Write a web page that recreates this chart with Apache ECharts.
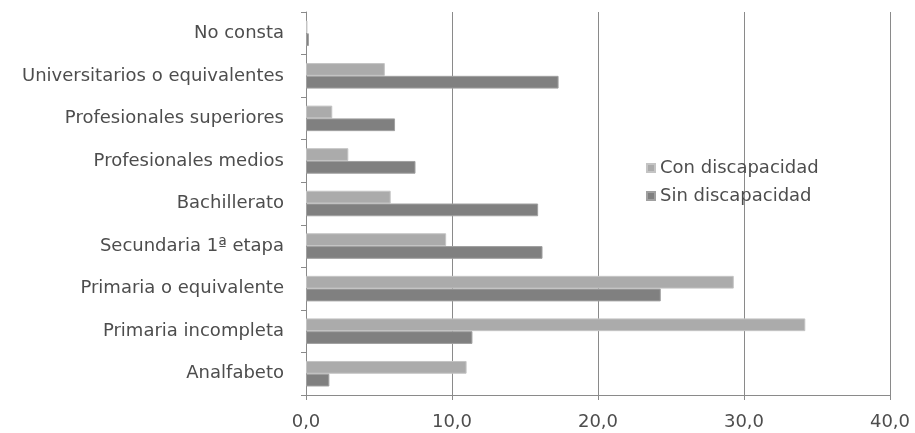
<!DOCTYPE html>
<html>
<head>
<meta charset="utf-8">
<script src="https://cdn.jsdelivr.net/npm/echarts@6/dist/echarts.min.js"></script>
<style>
html,body{margin:0;padding:0;background:#fff;}
#chart{width:915px;height:433px;}
</style>
</head>
<body>
<div id="chart"></div>
<script>
// Categories listed bottom to top
var categories = ["Analfabeto", "Primaria incompleta", "Primaria o equivalente", "Secundaria 1ª etapa", "Bachillerato", "Profesionales medios", "Profesionales superiores", "Universitarios o equivalentes", "No consta"];
var conDiscapacidad = [11.0, 34.2, 29.3, 9.6, 5.8, 2.9, 1.8, 5.4, 0.1];
var sinDiscapacidad = [1.6, 11.4, 24.3, 16.2, 15.9, 7.5, 6.1, 17.3, 0.2];
var seriesNames = ["Con discapacidad", "Sin discapacidad"];
var xTicks = [0, 10, 20, 30, 40];

var FONT = "DejaVu Sans";
var TEXT = '#4d4d4d';
var chart = echarts.init(document.getElementById('chart'));
chart.setOption({
  animation: false,
  backgroundColor: '#ffffff',
  grid: {left: 306, right: 25, top: 12, bottom: 38, containLabel: false},
  legend: {
    data: seriesNames,
    orient: 'vertical',
    left: 646, top: 159, padding: 0,
    itemWidth: 8, itemHeight: 8, itemGap: 10, itemTextGap: 9,
    icon: 'rect',
    textStyle: {fontFamily: FONT, fontSize: 18, color: TEXT}
  },
  xAxis: {
    type: 'value',
    min: xTicks[0], max: xTicks[xTicks.length - 1], interval: 10,
    axisLine: {show: true, lineStyle: {color: '#8a8a8a', width: 1}},
    axisTick: {show: true, length: 5, lineStyle: {color: '#8a8a8a'}},
    splitLine: {show: true, lineStyle: {color: '#8a8a8a', width: 1}},
    axisLabel: {
      fontFamily: FONT, fontSize: 18, color: TEXT, margin: 18,
      formatter: function (v) { return v.toFixed(1).replace('.', ','); }
    }
  },
  yAxis: {
    type: 'category',
    data: categories,
    axisLine: {show: true, lineStyle: {color: '#8a8a8a', width: 1}},
    axisTick: {show: true, length: 5, lineStyle: {color: '#8a8a8a'}},
    axisLabel: {fontFamily: FONT, fontSize: 18, color: TEXT, margin: 22}
  },
  series: [
    {
      name: seriesNames[0], type: 'bar', data: conDiscapacidad,
      barGap: '0%', barCategoryGap: '40%',
      itemStyle: {color: '#ababab', borderColor: '#c4c4c4', borderWidth: 1}
    },
    {
      name: seriesNames[1], type: 'bar', data: sinDiscapacidad,
      barGap: '0%', barCategoryGap: '40%',
      itemStyle: {color: '#808080', borderColor: '#a0a0a0', borderWidth: 1}
    }
  ]
});
</script>
</body>
</html>
